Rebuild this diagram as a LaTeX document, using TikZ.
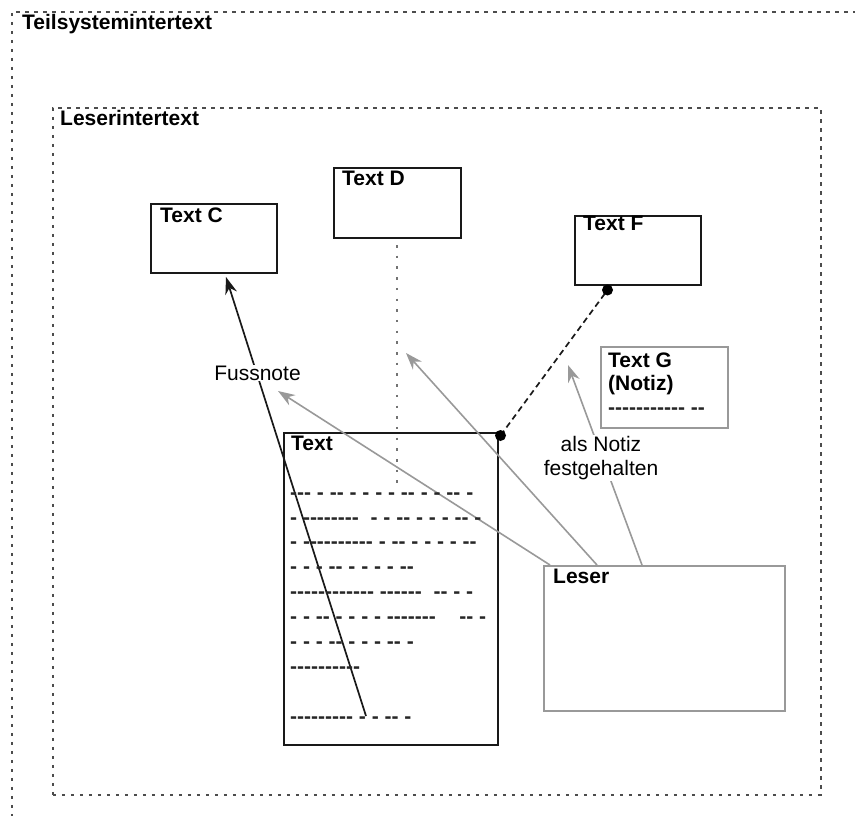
\documentclass[tikz,border=0pt]{standalone}
\usepackage{fontspec}
\setmainfont{Liberation Sans}
% hyphen runs must stay single hyphens, not en/em dashes
\newfontfamily\dashfont{Liberation Sans}[Ligatures=TeXOff]
\usetikzlibrary{arrows.meta}

\begin{document}
\begin{tikzpicture}[x=1pt,y=-1pt,
  font=\fontsize{21}{23.5}\selectfont,
  frame/.style={draw=black!70, line width=1.9pt, dash pattern=on 3.5pt off 5.5pt,
    inner sep=0, anchor=north west},
  doc/.style={draw=black!90, line width=1.8pt, fill=white, inner sep=0, anchor=north west},
  softdoc/.style={draw=black!40, line width=1.7pt, fill=white, inner sep=0, anchor=north west},
  title/.style={font=\fontsize{21}{23.5}\selectfont\bfseries, anchor=base west, inner sep=0},
  dashrow/.style={font=\fontsize{21}{23.5}\selectfont\dashfont\bfseries, anchor=base west,
    inner sep=0, text=black!85},
  readlink/.style={draw=black!40, line width=1.6pt, -{Stealth[length=17pt,width=12pt]}},
  notelink/.style={draw=black!90, line width=1.7pt, -{Stealth[length=17pt,width=12pt]}},
  anchorlink/.style={draw=black!90, line width=1.7pt, dash pattern=on 6pt off 4pt},
  trace/.style={draw=black!55, line width=2.3pt, dash pattern=on 2.5pt off 8.2pt},
  tag/.style={fill=white, inner sep=1pt, align=center}
]
\useasboundingbox (0,0) rectangle (855,816);
\clip (0,0) rectangle (855,816);

% nested intertext frames
\node[frame, minimum width=880pt, minimum height=840pt] (outer) at (11,11) {};
\node[title] (outerT) at (22,30) {Teilsystemintertext};
\node[frame, minimum width=768pt, minimum height=687pt] (inner) at (52,107) {};
\node[title] (innerT) at (60,125) {Leserintertext};

% documents
\node[doc, minimum width=126pt, minimum height=69pt] (textC) at (150,203) {};
\node[title] (textCT) at (160,222) {Text C};
\node[doc, minimum width=127pt, minimum height=70pt] (textD) at (333,167) {};
\node[title] (textDT) at (342,185) {Text D};
\node[doc, minimum width=126pt, minimum height=69pt] (textF) at (574,215) {};
\node[title] (textFT) at (583,230) {Text F};
\node[softdoc, minimum width=127pt, minimum height=81pt] (textG) at (600,346) {};
\node[title] (textGT) at (608,367) {Text G};
\node[title] (textGN) at (608,390) {(Notiz)};
\node[dashrow] (textGR) at (608,414) {----------- --};
\node[doc, minimum width=214pt, minimum height=312pt] (text) at (283,432) {};
\node[title] (textT) at (291,450) {Text};
\node[softdoc, minimum width=241pt, minimum height=145pt] (leser) at (543,565) {};
\node[title] (leserT) at (553,583) {Leser};

% connector end points
\coordinate (dtrace) at (397,245);
\coordinate (dtraceEnd) at (397,490);
\coordinate (fnMark) at (366,716);
\coordinate (cTip) at (226,277);
\coordinate (fnTip) at (278,391);
\coordinate (dTip) at (406,353);
\coordinate (gTip) at (568,365);
\coordinate (l1) at (550,565);
\coordinate (l2) at (597,565);
\coordinate (l3) at (642,565);
\coordinate (tAnchor) at (500.5,435.5);
\coordinate (fAnchor) at (607.5,290);

% connectors
\draw[trace] (dtrace) -- (dtraceEnd);
\draw[readlink] (l1) -- (fnTip);
\draw[readlink] (l2) -- (dTip);
\draw[readlink] (l3) -- (gTip);
\draw[notelink] (fnMark) -- (cTip);
\draw[anchorlink] (tAnchor) -- (fAnchor);
\fill[black] (tAnchor) circle (5.5pt) (fAnchor) circle (5.5pt);

% connector labels
\node[tag] (fussnote) at (257.5,373) {Fussnote};
\node[tag] (notiz) at (601,458) {als Notiz\\festgehalten};

% body of the text
\node[dashrow] (r1) at (290,499) {--- - -- - - - - -- - - -- -};
\node[dashrow] (r2) at (290,524) {- --------~ - - -- - - - -- -};
\node[dashrow] (r3) at (290,548) {- ---------- - -- - - - - --};
\node[dashrow] (r4) at (290,573) {- - - -- - - - - --};
\node[dashrow] (r5) at (290,598) {------------ ------~ -- - -};
\node[dashrow] (r6) at (290,623) {- - -- - - - - -------~~~ -- -};
\node[dashrow] (r7) at (290,648) {- - - -- - - - -- -};
\node[dashrow] (r8) at (290,673) {----------};
\node[dashrow] (r9) at (290,723) {--------- - - -- -};
\end{tikzpicture}
\end{document}
